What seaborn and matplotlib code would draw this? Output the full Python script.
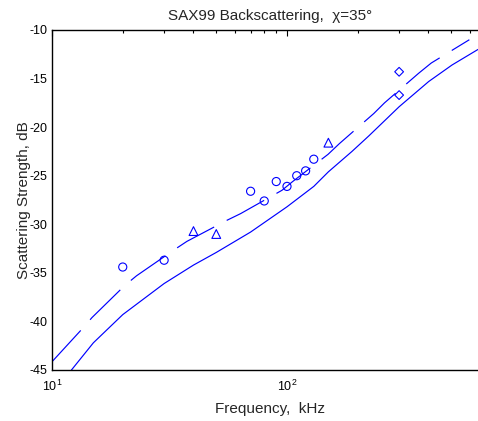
import numpy as np
import pandas as pd
import matplotlib
matplotlib.use("Agg")
import matplotlib.pyplot as plt
import seaborn as sns

# Curvas del modelo
solid_freq = [12.1, 15, 20, 30, 40, 50, 70, 100, 130, 150, 189, 223, 300, 401, 504, 650]
solid_db = [-45.0, -42.2, -39.3, -36.1, -34.2, -32.9, -30.8, -28.2, -26.1, -24.6, -22.5, -20.9, -17.9, -15.3, -13.6, -12.0]

dash_freq = [10, 13.4, 14.8, 20.4, 22.9, 33.0, 37.5, 55.4, 63.5, 95.2, 105.7, 149.5, 167, 234, 260, 363, 411, 597]
dash_db = [-44.15, -40.8, -39.6, -36.3, -35.3, -32.65, -31.76, -29.6, -28.9, -26.5, -25.6, -22.8, -21.7, -18.6, -17.5, -14.46, -13.4, -11.0]

# Medidas
circ_freq = [20, 30, 70, 80, 90, 100, 110, 120, 130]
circ_db = [-34.4, -33.7, -26.6, -27.6, -25.6, -26.1, -25.0, -24.5, -23.3]
tri_freq = [40, 50, 150]
tri_db = [-30.7, -31.0, -21.6]
diam_freq = [300, 300]
diam_db = [-14.3, -16.7]

sns.set_style("white")
plt.rcParams["font.family"] = ["Liberation Sans", "DejaVu Sans"]
plt.rcParams["mathtext.fontset"] = "custom"
plt.rcParams["mathtext.rm"] = "Liberation Sans"
plt.rcParams["axes.unicode_minus"] = False

fig = plt.figure(figsize=(4.78, 4.21), dpi=100)
ax = fig.add_axes([52 / 478, 51 / 421, 436 / 478, 340 / 421])
ax.set_xscale("log")

sns.lineplot(x=solid_freq, y=solid_db, ax=ax, color="blue", linewidth=0.85)
sns.lineplot(x=dash_freq, y=dash_db, ax=ax, color="blue", linewidth=0.85,
             linestyle=(0, (36, 12)))

sns.scatterplot(x=circ_freq, y=circ_db, ax=ax, marker="o", s=34,
                facecolors="none", edgecolor="blue", linewidth=0.8)
sns.scatterplot(x=tri_freq, y=tri_db, ax=ax, marker="^", s=40,
                facecolors="none", edgecolor="blue", linewidth=0.8)
sns.scatterplot(x=diam_freq, y=diam_db, ax=ax, marker="D", s=20,
                facecolors="none", edgecolor="blue", linewidth=0.8)

ax.set_xlim(10, 10 ** (1 + 436 / 235))
ax.set_ylim(-45, -10)
ax.set_yticks(np.arange(-45, -9, 5))
ax.tick_params(which="both", direction="in", top=True, right=True, labelsize=9, colors="black")
ax.tick_params(which="major", length=4, width=0.8)
ax.tick_params(which="minor", length=2.5, width=0.8)
ax.tick_params(axis="x", which="major", pad=6)
for sp in ax.spines.values():
    sp.set_color("black")
    sp.set_linewidth(1.0)

ax.set_title("SAX99 Backscattering,  \u03c7=35\u00b0", fontsize=11, pad=7)
ax.set_xlabel("Frequency,  kHz", fontsize=11, labelpad=6)
ax.set_ylabel("Scattering Strength, dB", fontsize=11, labelpad=-1)

fig.savefig("out.png", dpi=100)
